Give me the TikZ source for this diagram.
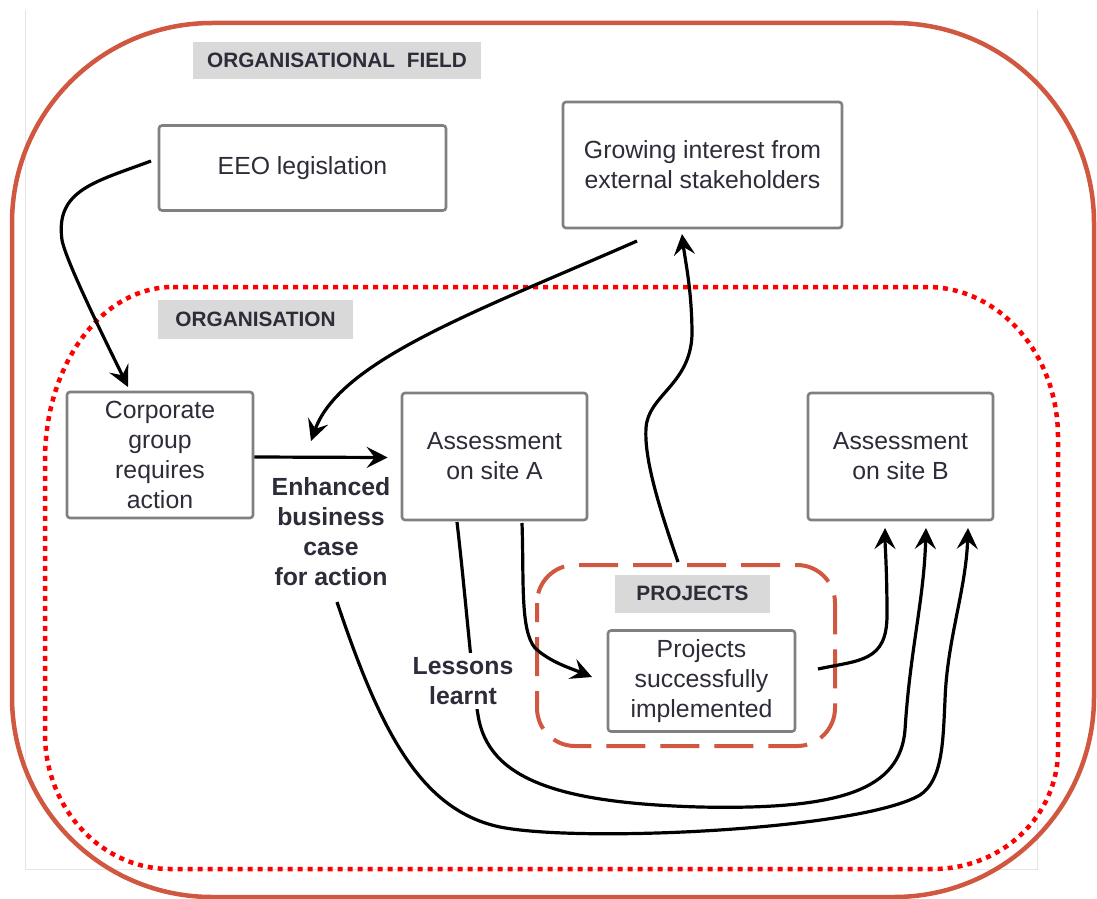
\documentclass[tikz,border=0pt]{standalone}
\usepackage{fontspec}
\setmainfont{Liberation Sans}
\usetikzlibrary{arrows.meta}

\definecolor{fieldred}{RGB}{208,88,64}
\definecolor{orgred}{RGB}{255,0,0}
\definecolor{boxgrey}{RGB}{128,128,128}
\definecolor{taggrey}{RGB}{217,217,217}
\definecolor{framegrey}{RGB}{228,228,228}
\definecolor{ink}{RGB}{45,45,58}

\newcommand{\bodyfont}{\fontsize{24.8}{30}\selectfont}
\newcommand{\tagfont}{\bfseries\fontsize{20.8}{24}\selectfont}
\newcommand{\notefont}{\bfseries\fontsize{24.8}{30}\selectfont}

\tikzset{
  box/.style={draw=boxgrey, line width=2.6pt, rounded corners=3pt, fill=white,
    align=center, font=\bodyfont, text=ink, inner sep=0pt},
  tag/.style={fill=taggrey, font=\tagfont, text=ink, inner sep=0pt},
  note/.style={align=center, font=\notefont, text=ink, inner sep=0pt},
  flow/.style={draw=black, line width=3.2pt,
    -{Stealth[length=21pt,width=21pt,inset=8pt]}},
  fieldline/.style={draw=fieldred, line width=4.5pt, rounded corners=200pt},
  orgline/.style={draw=orgred, line width=4.5pt, dash pattern=on 5pt off 5pt},
  projline/.style={draw=fieldred, line width=4pt, rounded corners=38pt,
    dash pattern=on 39pt off 15pt, dash phase=20pt},
}

\begin{document}
\begin{tikzpicture}[x=1pt,y=-1pt]
\useasboundingbox (0,0) rectangle (1097,899);
\fill[white] (0,0) rectangle (1097,899);

% faint page frame
\draw[framegrey, line width=1pt] (25,10) -- (25,869) -- (1037,869) -- (1037,10);

% organisational field
\draw[fieldline] (12,23) rectangle (1094,897);

% organisation (dotted, slightly elliptical corners)
\draw[orgline] (173,287) -- (927,287)
  .. controls (999,287) and (1058,354) .. (1058,437)
  -- (1058,750)
  .. controls (1058,816) and (1002,869) .. (933,869)
  -- (170,869)
  .. controls (101,869) and (45,808) .. (45,734)
  -- (45,460)
  .. controls (45,364) and (102,287) .. (173,287) -- cycle;

% projects (dashed)
\draw[projline] (537,565) rectangle (835,746);

% section tags
\node[tag, minimum width=288pt, minimum height=37pt] (tagfield) at (337,60.5)
  {ORGANISATIONAL\hspace{6pt} FIELD};
\node[tag, minimum width=195pt, minimum height=39pt] (tagorg) at (255.5,319.5)
  {ORGANISATION};
\node[tag, minimum width=155pt, minimum height=38pt] (tagproj) at (692.5,593.5)
  {PROJECTS};

% boxes
\node[box, minimum width=287pt, minimum height=85pt] (eeo) at (302.5,168)
  {EEO legislation};
\node[box, minimum width=279pt, minimum height=126pt] (grow) at (702.5,165)
  {Growing interest from\\external stakeholders};
\node[box, minimum width=186pt, minimum height=126pt] (corp) at (160,455)
  {Corporate\\group\\requires\\action};
\node[box, minimum width=185pt, minimum height=127pt] (siteA) at (494.5,456.5)
  {Assessment\\on site A};
\node[box, minimum width=185pt, minimum height=127pt] (siteB) at (900.5,456.5)
  {Assessment\\on site B};
\node[box, minimum width=187pt, minimum height=101pt] (proj) at (701.5,681)
  {Projects\\successfully\\implemented};

% free ends of the connectors
\coordinate (eeoOut) at (151,161);
\coordinate (corpIn) at (128,387);
\coordinate (growOut) at (637,241);
\coordinate (caseIn) at (311,441);
\coordinate (aDownL) at (457,522);
\coordinate (aDownR) at (522,523);
\coordinate (projIn) at (592,677);
\coordinate (projUp) at (678,562);
\coordinate (growIn) at (682,234);
\coordinate (projOut) at (818,669);
\coordinate (bIn1) at (885,528);
\coordinate (bIn2) at (926,528);
\coordinate (bIn3) at (968,528);
\coordinate (caseOut) at (337,602);

% connectors
\draw[flow] (eeoOut) .. controls (95,182) and (55,190) .. (62,240)
  .. controls (66,262) and (110,350) .. (corpIn);
\draw[flow] (growOut) .. controls (480,310) and (340,360) .. (caseIn);
\draw[flow] ([yshift=-2pt]corp.east) -- ([xshift=-13pt,yshift=-1pt]siteA.west);
\draw[flow] (aDownR) .. controls (524,580) and (520,630) .. (535,648)
  .. controls (550,662) and (570,668) .. (projIn);
\draw[flow] (projUp) .. controls (660,510) and (644,460) .. (646,428)
  .. controls (648,395) and (690,385) .. (692,335)
  .. controls (692,290) and (685,260) .. (growIn);
\draw[flow] (projOut) .. controls (860,660) and (887,662) .. (887,615)
  .. controls (887,570) and (885,545) .. (bIn1);
\draw[flow] (aDownL) .. controls (466,600) and (472,680) .. (478,715)
  .. controls (488,780) and (560,803) .. (700,807)
  .. controls (840,810) and (900,790) .. (905,730)
  .. controls (910,650) and (924,600) .. (bIn2);
\draw[flow] (caseOut) .. controls (380,730) and (420,810) .. (500,827)
  .. controls (580,843) and (860,830) .. (920,795)
  .. controls (943,780) and (943,740) .. (945,700)
  .. controls (947,640) and (966,590) .. (bIn3);

% connector labels
\node[note] (case) at (331,532) {Enhanced\\business\\case\\for action};
\node[note, fill=white, inner sep=4pt] (lessons) at (463,681) {Lessons\\learnt};
\end{tikzpicture}
\end{document}
